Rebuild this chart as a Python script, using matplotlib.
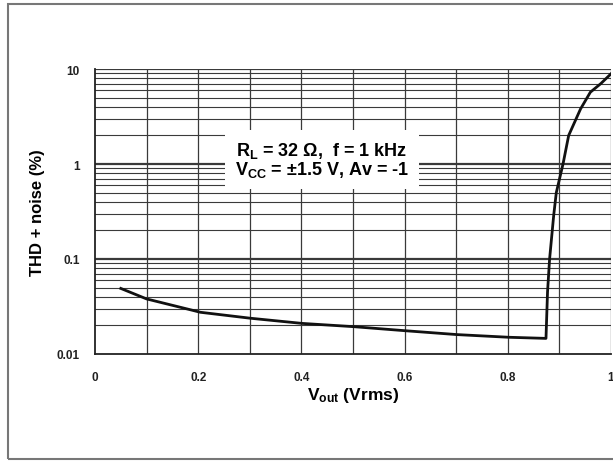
import numpy as np
from matplotlib import pyplot as plt
from matplotlib.patches import Rectangle

plt.rcParams['font.family'] = ['Liberation Sans', 'DejaVu Sans']
plt.rcParams['mathtext.fontset'] = 'custom'
plt.rcParams['mathtext.rm'] = 'Liberation Sans:bold'
plt.rcParams['mathtext.it'] = 'Liberation Sans:bold'
plt.rcParams['mathtext.bf'] = 'Liberation Sans:bold'

# THD+N vs output voltage
vout = [0.05, 0.10, 0.184, 0.204, 0.301, 0.401, 0.501, 0.60, 0.702, 0.802,
        0.874, 0.877, 0.881, 0.889, 0.894, 0.907, 0.918, 0.941, 0.960, 0.980, 1.0]
thdn = [0.049, 0.038, 0.0293, 0.0275, 0.0238, 0.0210, 0.0194, 0.0176, 0.0160, 0.0150,
        0.0146, 0.045, 0.10, 0.29, 0.50, 1.0, 2.0, 3.8, 5.7, 7.0, 8.9]

xticks = [0, 0.2, 0.4, 0.6, 0.8, 1]
xticklabels = ['0', '0.2', '0.4', '0.6', '0.8', '1']
yticks = [0.01, 0.1, 1, 10]
yticklabels = ['0.01', '0.1', '1', '10']

fig = plt.figure(figsize=(6.13, 4.64), dpi=100)
ax = fig.add_axes([95/613, 109/464, 516/613, 285/464])

ax.set_yscale('log')
ax.set_xlim(0, 1)
ax.set_ylim(0.01, 10)

gc = '#3a3a3a'
for x in np.arange(0.1, 1.01, 0.1):
    ax.axvline(x, color=gc, lw=0.9, zorder=1)
for dec in [0.01, 0.1, 1]:
    for m in range(2, 10):
        ax.axhline(dec*m, color=gc, lw=0.8, zorder=1)
for y in [0.1, 1, 10]:
    ax.axhline(y, color=gc, lw=1.6, zorder=1)

ax.plot(vout, thdn, color='#111111', lw=2.0, zorder=3, solid_joinstyle='round')

for s in ['top', 'right']:
    ax.spines[s].set_visible(False)
for s in ['left', 'bottom']:
    ax.spines[s].set_color('#222222')
    ax.spines[s].set_linewidth(1.3)

ax.set_xticks(xticks)
ax.set_xticklabels(xticklabels, fontsize=8.5, fontweight='bold', color='#222222')
ax.set_yticks(yticks)
ax.set_yticklabels(yticklabels, fontsize=8.5, fontweight='bold', color='#222222')
ax.minorticks_off()
ax.tick_params(axis='both', length=0)
ax.tick_params(axis='x', pad=12)
ax.tick_params(axis='y', pad=11)

ax.set_ylabel('THD + noise (%)', fontsize=12, fontweight='bold', labelpad=8)
ax.set_xlabel(r'V$_\mathrm{out}$ (Vrms)', fontsize=12.5, fontweight='bold', labelpad=2)

ax.text(0.44, 1.12, 'R$_\\mathrm{L}$ = 32 Ω,  f = 1 kHz\nV$_\\mathrm{CC}$ = ±1.5 V, Av = -1',
        fontsize=13, fontweight='bold', ha='center', va='center', linespacing=0.95,
        zorder=4, bbox=dict(facecolor='white', edgecolor='none', pad=7))

fig.patches.append(Rectangle((8/613, 4/464), 1.0, 455/464, transform=fig.transFigure,
                             fill=False, edgecolor='#777777', lw=1.5))

fig.savefig('out.png', dpi=100)
